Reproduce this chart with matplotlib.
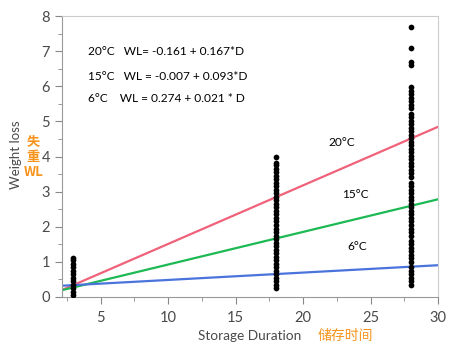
import matplotlib
matplotlib.use("Agg")
import matplotlib.pyplot as plt
from matplotlib.ticker import MultipleLocator

# observed weight loss at each storage duration
wl_d3 = [0.05, 0.15, 0.25, 0.35, 0.45, 0.55, 0.65, 0.75, 0.85, 0.95, 1.05, 1.10]
wl_d18 = [0.25, 0.35, 0.45, 0.55, 0.65, 0.75, 0.85, 0.95, 1.05, 1.15, 1.25, 1.35,
          1.45, 1.55, 1.65, 1.75, 1.85, 1.95, 2.05, 2.15, 2.25, 2.35, 2.45, 2.55,
          2.65, 2.75, 2.85, 2.95, 3.05, 3.15, 3.25, 3.35, 3.45, 3.55, 3.65, 3.75,
          3.82, 3.98]
wl_d28 = [0.35, 0.45, 0.55, 0.65, 0.75, 0.85, 1.0, 1.1, 1.2, 1.3, 1.4, 1.5, 1.6,
          1.75, 1.85, 1.95, 2.05, 2.15, 2.25, 2.35, 2.45, 2.55, 2.65, 2.75, 2.85,
          2.95, 3.05, 3.15, 3.25, 3.42, 3.52, 3.62, 3.72, 3.82, 3.92, 4.02, 4.12,
          4.22, 4.32, 4.42, 4.52, 4.62, 4.72, 4.82, 4.92, 5.02, 5.12, 5.22, 5.38,
          5.48, 5.58, 5.68, 5.78, 5.88, 5.98, 6.6, 6.7, 7.09, 7.68]
durations = [3, 18, 28]

# fitted lines WL = a + b*D
temps = ["20°C", "15°C", "6°C"]
intercepts = [-0.161, -0.007, 0.274]
slopes = [0.167, 0.093, 0.021]
line_colors = ["#F0627A", "#1DB954", "#4A74DC"]
eq_texts = ["20°C   WL= -0.161 + 0.167*D",
            "15°C   WL = -0.007 + 0.093*D",
            "6°C    WL = 0.274 + 0.021 * D"]
d_range = [2.2, 30]

ORANGE = "#F7941D"
GRAY = "#4a4a4a"
plt.rcParams["font.family"] = ["Lato", "Noto Sans CJK SC", "DejaVu Sans"]

fig = plt.figure(figsize=(4.51, 3.51), dpi=100)
ax = fig.add_axes([0.1375, 0.154, 0.834, 0.800])

for a, b, c in zip(intercepts, slopes, line_colors):
    ax.plot(d_range, [a + b * d for d in d_range], color=c, lw=1.6, zorder=2)

for d, vals in zip(durations, [wl_d3, wl_d18, wl_d28]):
    ax.scatter([d] * len(vals), vals, s=17, color="black", lw=0, zorder=3)

ax.set_xlim(2.15, 30); ax.set_ylim(0, 8)
ax.xaxis.set_major_locator(MultipleLocator(5)); ax.xaxis.set_minor_locator(MultipleLocator(2.5))
ax.yaxis.set_major_locator(MultipleLocator(1)); ax.yaxis.set_minor_locator(MultipleLocator(0.5))
ax.set_xticks([5, 10, 15, 20, 25, 30])
ax.tick_params(which="major", length=5, color="#888", labelsize=10.5, labelcolor=GRAY, direction="out")
ax.tick_params(axis="x", which="major", pad=5)
ax.tick_params(which="minor", length=3, color="#888", direction="out")
for s in ["left", "bottom"]:
    ax.spines[s].set_color("#999")
for s in ["top", "right"]:
    ax.spines[s].set_color("#ccc")

eq_y = [6.98, 6.27, 5.64]
for t, y in zip(eq_texts, eq_y):
    ax.text(4.05, y, t, fontsize=8.6, color="black", va="center")
lab_pos = [(22.9, 4.39), (23.85, 2.93), (24.0, 1.45)]
for t, (x, y) in zip(temps, lab_pos):
    ax.text(x, y, t, fontsize=8.6, color="black", ha="center", va="center")

fig.text(198 / 451, 1 - 336 / 351, "Storage Duration", fontsize=9.8, color=GRAY, va="center")
fig.text(318 / 451, 1 - 336 / 351, "储存时间", fontsize=10, color=ORANGE, va="center",
         family=["Noto Sans CJK SC", "DejaVu Sans"])
fig.text(15.5 / 451, 1 - 155 / 351, "Weight loss", fontsize=9.5, color=GRAY, rotation=90,
         ha="center", va="center")
fig.text(33.5 / 451, 1 - 157 / 351, "失\n重\nWL", fontsize=9.5, color=ORANGE, fontweight="bold",
         ha="center", va="center", linespacing=1.05, family=["Noto Sans CJK SC", "DejaVu Sans"])

fig.savefig("out.png", dpi=100)
